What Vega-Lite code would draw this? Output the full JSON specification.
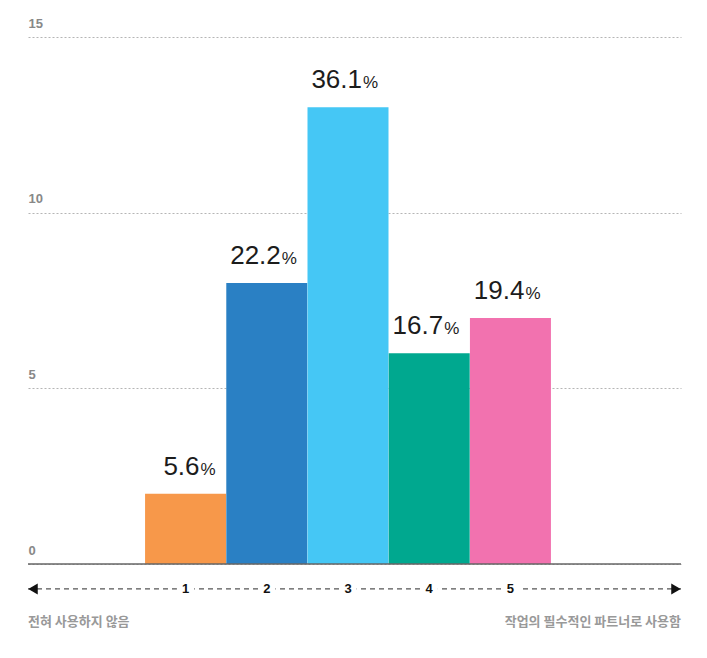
{
  "$schema": "https://vega.github.io/schema/vega-lite/v6.json",
  "width": 653,
  "height": 527,
  "autosize": "none",
  "padding": {"left": 28, "top": 37, "right": 26, "bottom": 94},
  "background": "white",
  "config": {"view": {"stroke": null}, "font": "Liberation Sans", "scale": {"continuousPadding": 0}},
  "data": {
    "values": [
      {"score": 1, "count": 2, "pct": "5.6"},
      {"score": 2, "count": 8, "pct": "22.2"},
      {"score": 3, "count": 13, "pct": "36.1"},
      {"score": 4, "count": 6, "pct": "16.7"},
      {"score": 5, "count": 7, "pct": "19.4"}
    ]
  },
  "layer": [
    {
      "mark": {"type": "bar", "width": 81},
      "encoding": {
        "x": {"field": "score", "type": "quantitative", "scale": {"domain": [-0.94, 7.1], "nice": false, "zero": false, "padding": 0}, "axis": null},
        "y": {
          "field": "count", "type": "quantitative",
          "scale": {"domain": [0, 15], "nice": false},
          "axis": {
            "title": null, "values": [0, 5, 10, 15], "domain": false, "ticks": false, "tickSize": 0,
            "labelPadding": 0, "labelAlign": "left", "labelBaseline": "alphabetic", "labelOffset": -10,
            "labelFont": "Liberation Sans", "labelFontSize": 13, "labelFontWeight": "bold", "labelColor": "#888888",
            "grid": true, "gridDash": [2, 2], "gridColor": "#b5b5b5", "gridWidth": 1
          }
        },
        "color": {
          "field": "score", "type": "nominal",
          "scale": {"domain": [1, 2, 3, 4, 5], "range": ["#F7984A", "#2A80C4", "#45C7F5", "#00A88F", "#F272AF"]},
          "legend": null
        }
      }
    },
    {
      "mark": {"type": "text", "align": "right", "baseline": "alphabetic", "dx": 14, "dy": -19, "fontSize": 26, "color": "#1c1c1c"},
      "encoding": {
        "x": {"field": "score", "type": "quantitative", "scale": {"domain": [-0.94, 7.1], "nice": false, "zero": false, "padding": 0}},
        "y": {"field": "count", "type": "quantitative", "scale": {"domain": [0, 15], "nice": false}, "title": null},
        "text": {"field": "pct"}
      }
    },
    {
      "mark": {"type": "text", "align": "left", "baseline": "alphabetic", "dx": 15, "dy": -19, "fontSize": 17, "color": "#1c1c1c", "text": "%"},
      "encoding": {
        "x": {"field": "score", "type": "quantitative", "scale": {"domain": [-0.94, 7.1], "nice": false, "zero": false, "padding": 0}},
        "y": {"field": "count", "type": "quantitative", "scale": {"domain": [0, 15], "nice": false}, "title": null}
      }
    },
    {
      "data": {"values": [{}]},
      "mark": {"type": "rule", "color": "#666666", "strokeWidth": 1.5},
      "encoding": {
        "x": {"datum": -0.94, "type": "quantitative", "scale": {"domain": [-0.94, 7.1], "nice": false, "zero": false, "padding": 0}},
        "x2": {"datum": 7.1},
        "y": {"datum": 0, "type": "quantitative", "scale": {"domain": [0, 15], "nice": false}, "title": null}
      }
    },
    {
      "data": {"values": [{}]},
      "mark": {"type": "rule", "color": "#555555", "strokeWidth": 1.2, "strokeDash": [5, 4]},
      "encoding": {
        "x": {"datum": -0.94, "type": "quantitative", "scale": {"domain": [-0.94, 7.1], "nice": false, "zero": false, "padding": 0}},
        "x2": {"datum": 7.1},
        "y": {"datum": -0.71, "type": "quantitative", "scale": {"domain": [0, 15], "nice": false}, "title": null}
      }
    },
    {
      "mark": {"type": "point", "shape": "square", "filled": true, "color": "white", "opacity": 1, "size": 300},
      "encoding": {
        "x": {"field": "score", "type": "quantitative", "scale": {"domain": [-0.94, 7.1], "nice": false, "zero": false, "padding": 0}},
        "y": {"datum": -0.71, "type": "quantitative", "scale": {"domain": [0, 15], "nice": false}, "title": null}
      }
    },
    {
      "mark": {"type": "text", "align": "center", "baseline": "middle", "fontSize": 13, "fontWeight": "bold", "color": "#111111"},
      "encoding": {
        "x": {"field": "score", "type": "quantitative", "scale": {"domain": [-0.94, 7.1], "nice": false, "zero": false, "padding": 0}},
        "y": {"datum": -0.71, "type": "quantitative", "scale": {"domain": [0, 15], "nice": false}, "title": null},
        "text": {"field": "score"}
      }
    },
    {
      "data": {"values": [{}]},
      "mark": {"type": "point", "shape": "triangle-left", "filled": true, "color": "#111111", "opacity": 1, "size": 120, "xOffset": 5},
      "encoding": {
        "x": {"datum": -0.94, "type": "quantitative", "scale": {"domain": [-0.94, 7.1], "nice": false, "zero": false, "padding": 0}},
        "y": {"datum": -0.71, "type": "quantitative", "scale": {"domain": [0, 15], "nice": false}, "title": null}
      }
    },
    {
      "data": {"values": [{}]},
      "mark": {"type": "point", "shape": "triangle-right", "filled": true, "color": "#111111", "opacity": 1, "size": 120, "xOffset": -5},
      "encoding": {
        "x": {"datum": 7.1, "type": "quantitative", "scale": {"domain": [-0.94, 7.1], "nice": false, "zero": false, "padding": 0}},
        "y": {"datum": -0.71, "type": "quantitative", "scale": {"domain": [0, 15], "nice": false}, "title": null}
      }
    },
    {
      "data": {"values": [{"label": "전혀 사용하지 않음"}]},
      "mark": {"type": "text", "align": "left", "baseline": "middle", "font": "Noto Sans CJK KR", "fontSize": 13, "fontWeight": "bold", "color": "#999999"},
      "encoding": {
        "x": {"datum": -0.94, "type": "quantitative", "scale": {"domain": [-0.94, 7.1], "nice": false, "zero": false, "padding": 0}},
        "y": {"datum": -1.65, "type": "quantitative", "scale": {"domain": [0, 15], "nice": false}, "title": null},
        "text": {"field": "label"}
      }
    },
    {
      "data": {"values": [{"label": "작업의 필수적인 파트너로 사용함"}]},
      "mark": {"type": "text", "align": "right", "baseline": "middle", "font": "Noto Sans CJK KR", "fontSize": 13, "fontWeight": "bold", "color": "#999999"},
      "encoding": {
        "x": {"datum": 7.1, "type": "quantitative", "scale": {"domain": [-0.94, 7.1], "nice": false, "zero": false, "padding": 0}},
        "y": {"datum": -1.65, "type": "quantitative", "scale": {"domain": [0, 15], "nice": false}, "title": null},
        "text": {"field": "label"}
      }
    }
  ]
}
